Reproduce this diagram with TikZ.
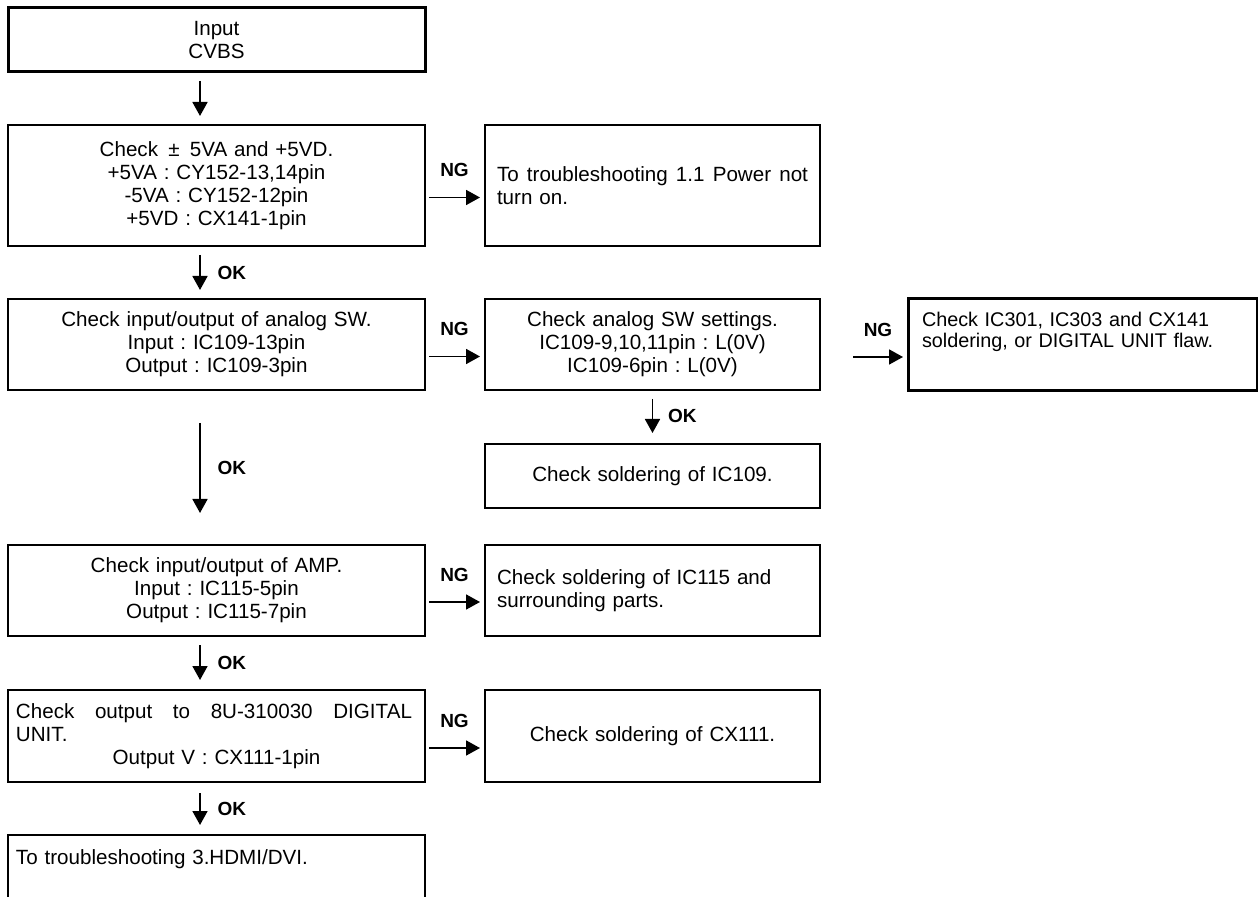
\documentclass[tikz,border=0pt]{standalone}
\usepackage{fontspec}
\setmainfont{Liberation Sans}
\usetikzlibrary{arrows.meta, positioning}

\begin{document}
\frenchspacing
\begin{tikzpicture}[
  font=\fontsize{10.3}{11.5}\selectfont,
  lbox/.style={rectangle, draw, line width=0.9pt, outer sep=0pt, inner xsep=4pt, text width=200.5pt, align=center},
  mbox/.style={rectangle, draw, line width=0.9pt, outer sep=0pt, inner xsep=6pt, text width=155.5pt, align=center},
  rbox/.style={rectangle, draw, line width=1.5pt, outer sep=0pt, inner xsep=7pt, text width=160.5pt, align=left, minimum height=46pt, font=\fontsize{9.9}{10.6}\selectfont},
  arrow/.style={-{Triangle[length=7pt, width=7.5pt]}, line width=0.9pt},
  tag/.style={font=\fontsize{9.5}{11}\selectfont\bfseries}
]
\path[use as bounding box] (0,0) rectangle (629pt,-448.5pt);
\clip (0,0) rectangle (629pt,-448.5pt);

% NODES
\node[lbox, line width=1.5pt, minimum height=32pt] (inp) at (108.25pt,-20pt) {Input\\CVBS};
\node[lbox, minimum height=60.5pt, below=26.5pt of inp] (pwr) {Check \,± \,5VA and +5VD.\\+5VA : CY152-13,14pin\\-5VA : CY152-12pin\\+5VD : CX141-1pin};
\node[mbox, align=left, minimum height=60.5pt, right=30pt of pwr] (pwrng) {\hbox to 155.5pt{To\hfill troubleshooting\hfill 1.1\hfill Power\hfill not}\\turn on.};
\node[lbox, minimum height=45.5pt, below=26.5pt of pwr] (asw) {Check input/output of analog SW.\\Input : IC109-13pin\\Output : IC109-3pin};
\node[mbox, minimum height=45.5pt, right=30pt of asw] (aswset) {Check analog SW settings.\\IC109-9,10,11pin : L(0V)\\IC109-6pin : L(0V)};
\node[rbox, right=44pt of aswset] (dflaw) {Check IC301, IC303 and CX141\\soldering, or DIGITAL UNIT flaw.\\[4pt]\mbox{}};
\node[mbox, minimum height=32pt, below=27pt of aswset] (sold109) {Check soldering of IC109.};
\node[lbox, minimum height=45.5pt, below=77.5pt of asw] (amp) {Check input/output of AMP.\\Input : IC115-5pin\\Output : IC115-7pin};
\node[mbox, align=left, minimum height=45.5pt, right=30pt of amp] (ampng) {Check soldering of IC115 and\\surrounding parts.};
\node[lbox, align=left, minimum height=46pt, below=27pt of amp] (dig) {\hbox to 198pt{Check\hfill output\hfill to\hfill 8U-310030\hfill DIGITAL}\\UNIT.\\\hbox to 200.5pt{\hfill Output V : CX111-1pin\hfill}};
\node[mbox, minimum height=46pt, right=30pt of dig] (cx111) {Check soldering of CX111.};
\node[lbox, align=left, minimum height=45.5pt, below=26.5pt of dig] (hdmi) {To troubleshooting 3.HDMI/DVI.\\\mbox{}\\\mbox{}};

% FLOW
\draw[arrow] ([xshift=-8.25pt,yshift=-4.5pt]inp.south) -- ([xshift=-8.25pt,yshift=4.5pt]pwr.north);
\draw[arrow] ([xshift=-8.25pt,yshift=-4.5pt]pwr.south) -- node[tag, right=5pt]{OK} ([xshift=-8.25pt,yshift=4.5pt]asw.north);
\draw[arrow] ([xshift=-8.25pt,yshift=-16.5pt]asw.south) -- node[tag, right=5pt]{OK} ([xshift=-8.25pt,yshift=16pt]amp.north);
\draw[arrow] ([xshift=-8.25pt,yshift=-4.5pt]amp.south) -- node[tag, right=5pt]{OK} ([xshift=-8.25pt,yshift=5pt]dig.north);
\draw[arrow] ([xshift=-8.25pt,yshift=-5.5pt]dig.south) -- node[tag, right=5pt]{OK} ([xshift=-8.25pt,yshift=5pt]hdmi.north);
\draw[arrow] ([yshift=-4.5pt]aswset.south) -- node[tag, right=4pt]{OK} ([yshift=5.5pt]sold109.north);

% NG BRANCHES
\draw[arrow] ([xshift=2pt,yshift=-6pt]pwr.east) -- node[tag, above=6.5pt]{NG} ([xshift=-2.5pt,yshift=-6pt]pwrng.west);
\draw[arrow] ([xshift=2pt,yshift=-6pt]asw.east) -- node[tag, above=6.5pt]{NG} ([xshift=-2.5pt,yshift=-6pt]aswset.west);
\draw[arrow] ([xshift=16.5pt,yshift=-6.25pt]aswset.east) -- node[tag, above=6.5pt]{NG} ([xshift=-2.5pt,yshift=-6.25pt]dflaw.west);
\draw[arrow] ([xshift=2pt,yshift=-5.75pt]amp.east) -- node[tag, above=6.5pt]{NG} ([xshift=-2.5pt,yshift=-5.75pt]ampng.west);
\draw[arrow] ([xshift=2pt,yshift=-6pt]dig.east) -- node[tag, above=6.5pt]{NG} ([xshift=-2.5pt,yshift=-6pt]cx111.west);

\end{tikzpicture}
\end{document}
